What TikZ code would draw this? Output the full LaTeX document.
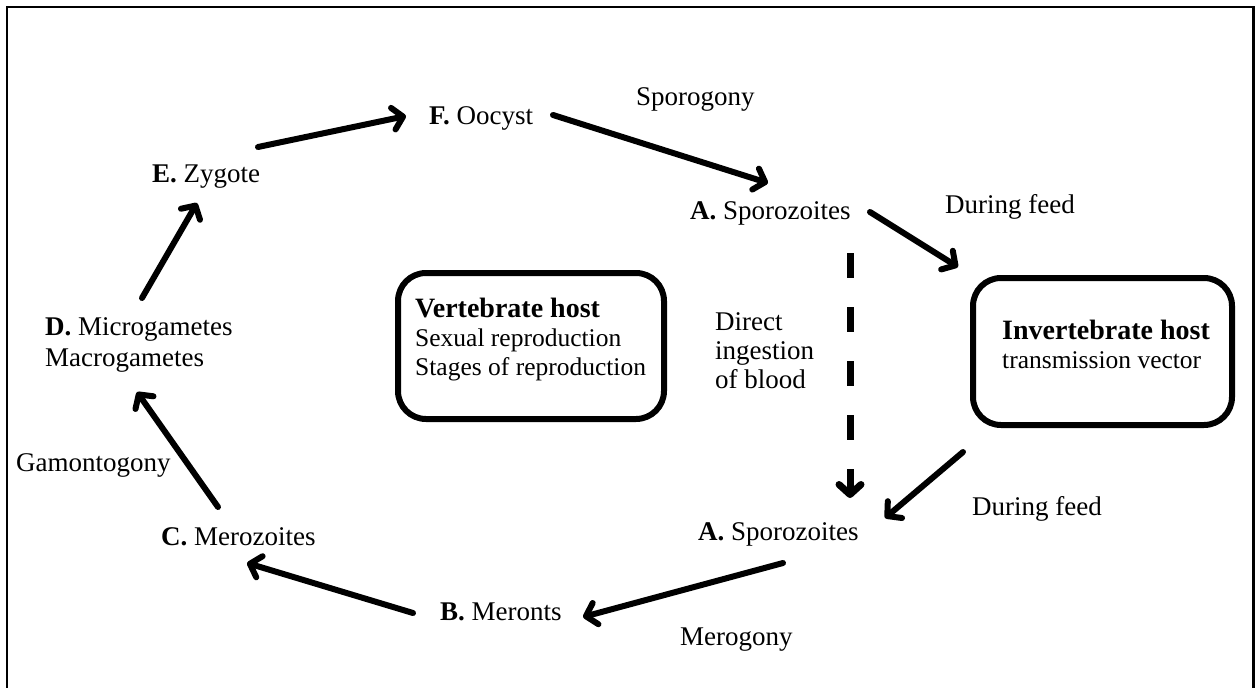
\documentclass[tikz,border=0pt]{standalone}
\usepackage{fontspec}
\setmainfont{Liberation Serif}
\usetikzlibrary{arrows.meta}
\begin{document}
\begin{tikzpicture}[x=1pt,y=-1pt,
  lbl/.style={inner sep=0pt, anchor=base west, align=left, font=\fontsize{27}{30}\selectfont},
  tip/.style={-{Straight Barb[length=10pt,width=22pt,round]}},
  arr/.style={line width=6pt, line cap=round, tip},
  dasharr/.style={line width=7pt, dash pattern=on 25pt off 29pt, tip},
  hostbox/.style={draw, line width=6pt, rounded corners=28pt, inner sep=0pt, outer sep=0pt},
  hosttxt/.style={inner sep=0pt, align=left, anchor=base west, font=\fontsize{25.5}{29}\selectfont}
]
\useasboundingbox (0,0) rectangle (1256,688);
\draw[line width=2.5pt] (7,688) -- (7,7) -- (1253.5,7) -- (1253.5,688);

% text nodes (multi-line nodes are placed by the baseline of their last line)
\node[lbl] (F)  at (429,124) {\textbf{F.} Oocyst};
\node[lbl] (Sp) at (636,105) {Sporogony};
\node[lbl] (A1) at (690,219) {\textbf{A.} Sporozoites};
\node[lbl] (E)  at (152,182) {\textbf{E.} Zygote};
\node[lbl, font=\fontsize{27}{31}\selectfont] (D) at (45,366) {\textbf{D.} Microgametes\\Macrogametes};
\node[lbl] (G)  at (16,471) {Gamontogony};
\node[lbl] (C)  at (161,545) {\textbf{C.} Merozoites};
\node[lbl] (B)  at (440,620) {\textbf{B.} Meronts};
\node[lbl] (M)  at (680,645) {Merogony};
\node[lbl] (A2) at (698,540) {\textbf{A.} Sporozoites};
\node[lbl] (DF1) at (945,213) {During feed};
\node[lbl] (DF2) at (972,515) {During feed};
\node[lbl, font=\fontsize{27}{29}\selectfont] (DI) at (715,388) {Direct\\ingestion\\of blood};

% host boxes
\node[hostbox, minimum width=266pt, minimum height=146pt] (vbox) at (531,346) {};
\node[hosttxt] (vtext) at (415,375) {{\fontsize{28}{29}\selectfont\bfseries Vertebrate host}\\Sexual reproduction\\Stages of reproduction};
\node[hostbox, minimum width=259pt, minimum height=147pt] (ibox) at (1102.5,351.5) {};
\node[hosttxt] (itext) at (1002,368) {{\fontsize{28}{29}\selectfont\bfseries Invertebrate host}\\transmission vector};

% connectors
\draw[arr] ([shift={(106,-35)}]E.base west) -- ([shift={(-23,-8)}]F.base west);
\draw[arr] ([shift={(124,-9)}]F.base west) -- ([shift={(78,-36)}]A1.base west);
\draw[arr] ([shift={(180,-7)}]A1.base west) -- ([shift={(-15,-11)}]ibox.north west);
\draw[arr] ([shift={(-10,27)}]ibox.south west) -- ([shift={(187,-22)}]A2.base west);
\draw[dasharr] ([shift={(160,34)}]A1.base west) -- ([shift={(152,-42)}]A2.base west);
\draw[arr] ([shift={(85,23)}]A2.base west) -- ([shift={(143,-3)}]B.base west);
\draw[arr] ([shift={(-27,-7)}]B.base west) -- ([shift={(86,18)}]C.base west);
\draw[arr] ([shift={(57,-38)}]C.base west) -- ([shift={(92,26)}]D.base west);
\draw[arr] ([shift={(97,-68)}]D.base west) -- ([shift={(45,21)}]E.base west);
\end{tikzpicture}
\end{document}
